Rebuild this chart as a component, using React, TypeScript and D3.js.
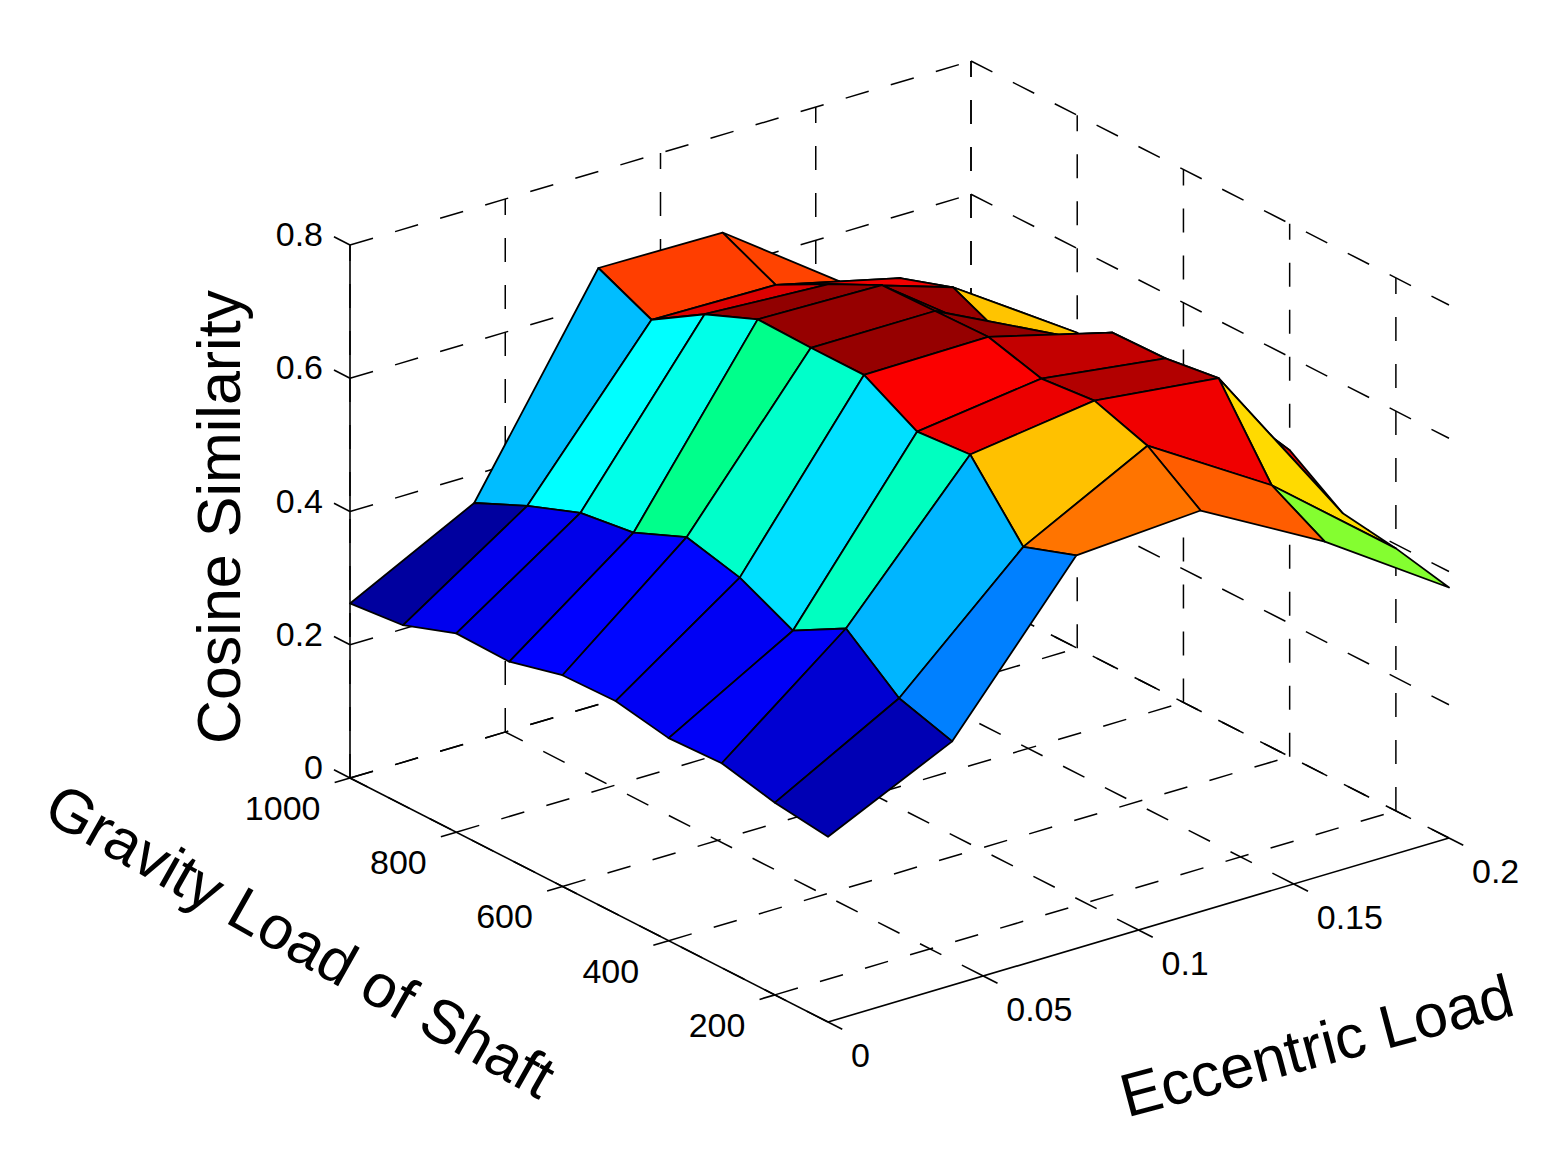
import * as d3 from "d3";

// ---- data ----
const gravityLoad = [100, 200, 300, 400, 500, 600, 700, 800, 900, 1000];
const eccentricLoad = [0, 0.04, 0.08, 0.12, 0.16, 0.2];

// cosine similarity, one row per gravity load, columns follow eccentricLoad
const sim100 = [0.278, 0.366, 0.590, 0.602, 0.500, 0.376];
const sim200 = [0.2885, 0.390, 0.562, 0.6586, 0.544, 0.394];
const sim300 = [0.307, 0.454, 0.660, 0.6855, 0.664, 0.406];
const sim400 = [0.304, 0.410, 0.6535, 0.678, 0.653, 0.460];
const sim500 = [0.319, 0.449, 0.698, 0.700, 0.651, 0.470];
const sim600 = [0.317, 0.469, 0.698, 0.698, 0.607, 0.470];
const sim700 = [0.2966, 0.435, 0.700, 0.696, 0.560, 0.460];
const sim800 = [0.2985, 0.424, 0.667, 0.657, 0.597, 0.4735];
const sim900 = [0.270, 0.394, 0.618, 0.615, 0.570, 0.440];
const sim1000 = [0.262, 0.3575, 0.655, 0.653, 0.520, 0.400];
const similarity = [sim100, sim200, sim300, sim400, sim500, sim600, sim700, sim800, sim900, sim1000];

const gravityTicks = [200, 400, 600, 800, 1000];
const eccentricTicks = [0, 0.05, 0.1, 0.15, 0.2];
const similarityTicks = [0, 0.2, 0.4, 0.6, 0.8];

// colormap (fraction of the colour range -> colour)
const cmapStops = [0, 0.02, 0.085, 0.125, 0.237, 0.37, 0.44, 0.475, 0.54, 0.64, 0.69, 0.75, 0.81, 0.89, 1];
const cmapColors = ["#00008f", "#0000a0", "#0000f0", "#0000ff", "#0080ff", "#00ffff", "#00ffbe", "#00ff87",
    "#80ff32", "#ffdc00", "#ffbe00", "#ff7300", "#ff4000", "#ff0000", "#910000"];

// ---- layout ----
const width = 1568;
const height = 1161;
const origin = {x: 350, y: 778};
const axisU = {x: 478, y: 244};   // gravity 1000 -> 100
const axisV = {x: 621, y: -184};  // eccentric 0 -> 0.2
const axisW = {x: 0, y: -533};    // similarity 0 -> 0.8
const font = "'Liberation Sans', Arial, Helvetica, sans-serif";

const gScale = d3.scaleLinear().domain([1000, 100]).range([0, 1]);
const eScale = d3.scaleLinear().domain([0, 0.2]).range([0, 1]);
const zScale = d3.scaleLinear().domain([0, 0.8]).range([0, 1]);

const project = (g: number, e: number, z: number): [number, number] => {
    const u = gScale(g), v = eScale(e), w = zScale(z);
    return [
        origin.x + u * axisU.x + v * axisV.x + w * axisW.x,
        origin.y + u * axisU.y + v * axisV.y + w * axisW.y
    ];
};

const unit = (p: {x: number, y: number}) => {
    const l = Math.hypot(p.x, p.y);
    return {x: p.x / l, y: p.y / l};
};
const uDir = unit(axisU);
const vDir = unit(axisV);

const flat = similarity.flat();
const tScale = d3.scaleLinear().domain(d3.extent(flat) as [number, number]).range([0, 1]);
const cmap = d3.scaleLinear<string>().domain(cmapStops).range(cmapColors).interpolate(d3.interpolateRgb);

type Seg = [[number, number], [number, number]];

const gridLines = (): Seg[] => {
    const segs: Seg[] = [];
    const gMin = gScale.domain()[1], gMax = gScale.domain()[0];
    const eMax = eScale.domain()[1];
    const zMax = zScale.domain()[1];
    // floor
    gravityTicks.forEach(g => segs.push([project(g, 0, 0), project(g, eMax, 0)]));
    eccentricTicks.forEach(e => segs.push([project(gMin, e, 0), project(gMax, e, 0)]));
    // back wall at gravity = 1000
    similarityTicks.forEach(z => segs.push([project(gMax, 0, z), project(gMax, eMax, z)]));
    eccentricTicks.forEach(e => segs.push([project(gMax, e, 0), project(gMax, e, zMax)]));
    // back wall at eccentric = 0.2
    similarityTicks.forEach(z => segs.push([project(gMax, eMax, z), project(gMin, eMax, z)]));
    gravityTicks.forEach(g => segs.push([project(g, eMax, 0), project(g, eMax, zMax)]));
    return segs;
};

const surfaceCells = () => {
    const cells: {pts: [number, number][], color: string, depth: number}[] = [];
    for (let r = 0; r < gravityLoad.length - 1; r++) {
        for (let j = 0; j < eccentricLoad.length - 1; j++) {
            const g0 = gravityLoad[r], g1 = gravityLoad[r + 1];
            const e0 = eccentricLoad[j], e1 = eccentricLoad[j + 1];
            const pts = [
                project(g0, e0, similarity[r][j]),
                project(g1, e0, similarity[r + 1][j]),
                project(g1, e1, similarity[r + 1][j + 1]),
                project(g0, e1, similarity[r][j + 1])
            ];
            const uc = gScale((g0 + g1) / 2), vc = eScale((e0 + e1) / 2);
            cells.push({
                pts,
                color: cmap(tScale(similarity[r][j])),
                depth: 1.3 * uc - vc
            });
        }
    }
    // far cells first
    return cells.sort((a, b) => a.depth - b.depth);
};

const fmt = (d: number) => `${d}`;

export default function App() {
    const segs = gridLines();
    const cells = surfaceCells();
    const gMin = 100, gMax = 1000, eMax = 0.2, zMax = 0.8;
    const zAxis = [project(gMax, 0, 0), project(gMax, 0, zMax)];
    const gAxis = [project(gMax, 0, 0), project(gMin, 0, 0)];
    const eAxis = [project(gMin, 0, 0), project(gMin, eMax, 0)];
    const line = d3.line();

    return (
        <svg width={width} height={height} style={{position: "absolute", left: 0, top: 0, display: "block", background: "#fff"}}>
            <g fill="none" stroke="#000" strokeWidth={1.5} strokeDasharray="24 23">
                {segs.map((s, i) => <path key={i} d={line(s) || ""}/>)}
            </g>
            <g fill="none" stroke="#000" strokeWidth={1.6}>
                <path d={line(zAxis as any) || ""}/>
                <path d={line(gAxis as any) || ""}/>
                <path d={line(eAxis as any) || ""}/>
                {similarityTicks.map(z => {
                    const [x, y] = project(gMax, 0, z);
                    return <path key={`zt${z}`} d={`M${x},${y}L${x - 18 * uDir.x},${y - 18 * uDir.y}`}/>;
                })}
                {gravityTicks.map(g => {
                    const [x, y] = project(g, 0, 0);
                    return <path key={`gt${g}`} d={`M${x},${y}L${x - 16 * vDir.x},${y - 16 * vDir.y}`}/>;
                })}
                {eccentricTicks.map(e => {
                    const [x, y] = project(gMin, e, 0);
                    return <path key={`et${e}`} d={`M${x},${y}L${x + 16 * uDir.x},${y + 16 * uDir.y}`}/>;
                })}
            </g>
            <g stroke="#000" strokeWidth={1.8} strokeLinejoin="round">
                {cells.map((c, i) => <polygon key={i} points={c.pts.map(p => p.join(",")).join(" ")} fill={c.color}/>)}
            </g>
            <g fontFamily={font} fontSize={34} fill="#000">
                {similarityTicks.map(z => {
                    const [x, y] = project(gMax, 0, z);
                    return <text key={`zl${z}`} x={x - 27} y={y + 1} textAnchor="end">{fmt(z)}</text>;
                })}
                {gravityTicks.map(g => {
                    const [x, y] = project(g, 0, 0);
                    return <text key={`gl${g}`} x={x - 29.5} y={y + 42} textAnchor="end">{fmt(g)}</text>;
                })}
                {eccentricTicks.map(e => {
                    const [x, y] = project(gMin, e, 0);
                    return <text key={`el${e}`} x={x + 23} y={y + 44.5} textAnchor="start">{fmt(e)}</text>;
                })}
            </g>
            <g fontFamily={font} fontSize={61} fill="#000" textAnchor="middle">
                <text transform="translate(240,517) rotate(-90)">Cosine Similarity</text>
                <text transform="translate(290,959) rotate(29.5)">Gravity Load of Shaft</text>
                <text transform="translate(1322,1066) rotate(-14.8)">Eccentric Load</text>
            </g>
        </svg>
    );
}
